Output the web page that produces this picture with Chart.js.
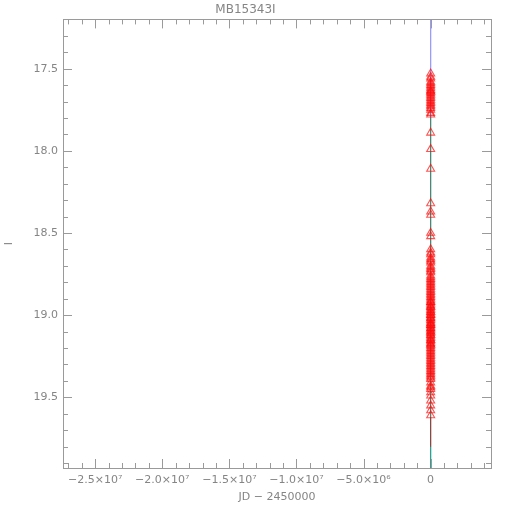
<!DOCTYPE html>
<html>
<head>
<meta charset="utf-8">
<script src="https://cdn.jsdelivr.net/npm/chart.js@4.4.1/dist/chart.umd.min.js"></script>
<style>
  html, body { margin: 0; padding: 0; background: #fff; }
  #wrap { width: 510px; height: 510px; }
</style>
</head>
<body>
<div id="wrap"><canvas id="lc"></canvas></div>
<script>
// ------------------- Data -------------------
const chartTitle = 'MB15343I';
const xTitle = 'JD \u2212 2450000';
const yTitle = 'I';

// axis ranges and labelled ticks
const xRange = [-27400000, 4500000];
const yRange = [17.2, 19.93];
const xTickVals = [-25000000, -20000000, -15000000, -10000000, -5000000, 0];
const yTickVals = [17.5, 18.0, 18.5, 19.0, 19.5];

// observations (JD - 2450000, I mag)
const obsJD = [
  3824.1, 3826.2, 3829.0, 3831.1, 3833.2, 3835.0, 3837.1, 3839.2, 3841.0, 3843.1,
  3845.2, 3847.0, 3849.1, 3851.2, 3853.0, 3855.1, 3857.2, 3859.0, 3861.1, 3863.2,
  3866.0, 3869.1, 3872.2, 3875.0, 3878.1, 3881.2, 3884.0, 3887.1,
  3890.2, 3893.0, 3896.1, 3899.2, 3902.0, 3905.1, 3908.2, 3911.0, 3914.1, 3917.2,
  3920.0, 3923.1, 3926.2, 3929.0, 3932.1, 3935.2, 3938.0, 3941.1, 3944.2, 3947.0,
  3950.1, 3953.2, 3956.0, 3959.1, 3962.2, 3965.0, 3968.1, 3971.2, 3974.0, 3977.1,
  3980.2, 3983.0, 3986.1, 3989.2, 3992.0, 3995.1, 3998.2, 4001.0, 4004.1, 4007.2,
  4010.0, 4013.1, 4016.2, 4019.0, 4022.1, 4025.2, 4028.0, 4031.1, 4034.2, 4037.0,
  4040.1, 4043.2, 4046.0, 4049.1, 4052.2, 4055.0, 4058.1, 4061.2, 4064.0, 4067.1,
  4070.2, 4073.0, 4076.1, 4079.2, 4082.0, 4085.1, 4088.2, 4091.0, 4094.1, 4097.2,
  4100.0, 4103.1, 4106.2, 4109.0, 4112.1, 4115.2, 4118.0, 4121.1, 4124.2, 4127.0,
  4130.1, 4133.2, 4136.0, 4139.1, 4142.2, 4145.0,
  4148.1, 4151.2, 4154.0, 4157.1, 4160.2, 4163.0, 4166.1, 4169.2, 4172.0, 4175.1,
  4178.2, 4181.0, 4184.1, 4187.2, 4190.0, 4193.1
];
const obsMag = [
  17.53, 17.55, 17.56, 17.58, 17.60, 17.61, 17.62, 17.63, 17.64, 17.65,
  17.66, 17.67, 17.68, 17.70, 17.71, 17.72, 17.74, 17.75, 17.77, 17.78,
  17.89, 17.99, 18.11, 18.32, 18.37, 18.39, 18.50, 18.52,
  18.60, 18.62, 18.63, 18.65, 18.66, 18.68, 18.70, 18.71, 18.73, 18.74,
  18.76, 18.77, 18.79, 18.80, 18.81, 18.83, 18.84, 18.85, 18.86, 18.88,
  18.89, 18.90, 18.91, 18.92, 18.93, 18.94, 18.95, 18.96, 18.97, 18.98,
  18.99, 19.00, 19.01, 19.02, 19.03, 19.04, 19.05, 19.06, 19.07, 19.08,
  19.09, 19.10, 19.11, 19.12, 19.13, 19.14, 19.15, 19.16, 19.17, 19.18,
  19.19, 19.20, 19.21, 19.22, 19.23, 19.25, 19.26, 19.27, 19.29, 19.30,
  19.31, 19.33, 19.34, 19.36, 19.38, 19.39, 19.41, 19.43, 19.45, 19.47,
  19.49, 19.52, 19.55, 19.58, 19.61, 18.95, 19.00, 19.05, 19.08, 19.12,
  19.15, 19.02, 18.98, 18.87, 19.24, 19.35,
  18.72, 18.78, 18.82, 19.06, 19.18, 19.28, 19.32, 19.37, 19.44, 17.59,
  17.64, 17.69, 17.73, 18.67, 18.92, 19.10
];

// model curve pieces at JD ~ 0 (mag breakpoints, top to bottom)
const modelJD = 0;
const modelMag = [17.2, 17.55, 17.8, 19.62, 19.8, 19.93];
const modelColors = ['#9c9cff', '#8a6a9a', '#4a8a74', '#8a4a44', '#2aa294'];

// ------------------- Styles -------------------
const textColor = '#858585';
const axisColor = '#9a9a9a';
const fontFamily = "'DejaVu Sans', sans-serif";
const sup = { '6': '\u2076', '7': '\u2077' };

function fmtX(v) {
  if (v === 0) return '0';
  const e = Math.floor(Math.log10(Math.abs(v)));
  const m = Math.abs(v) / Math.pow(10, e);
  return (v < 0 ? '\u2212' : '') + m.toFixed(1) + '\u00d710' + sup[String(e)];
}

// ------------------- Datasets -------------------
const datasets = [];
for (let i = 0; i < modelColors.length; i++) {
  datasets.push({
    type: 'line',
    data: [{ x: modelJD, y: modelMag[i] }, { x: modelJD, y: modelMag[i + 1] }],
    borderColor: modelColors[i],
    borderWidth: 1,
    pointRadius: 0,
    order: 2
  });
}
datasets.push({
  type: 'scatter',
  data: obsJD.map((jd, i) => ({ x: jd, y: obsMag[i] })),
  pointStyle: 'triangle',
  pointRadius: 4.6,
  borderColor: 'rgba(255, 10, 10, 0.7)',
  backgroundColor: 'rgba(0,0,0,0)',
  borderWidth: 1.1,
  order: 1
});

// ------------------- Frame + IDL-style ticks -------------------
const frameTicks = {
  id: 'frameTicks',
  afterDraw(chart) {
    const { ctx, chartArea: a, scales: { x, y } } = chart;
    ctx.save();
    ctx.strokeStyle = axisColor;
    ctx.lineWidth = 1;
    ctx.strokeRect(Math.round(a.left) + 0.5, Math.round(a.top) + 0.5,
      Math.round(a.right - a.left), Math.round(a.bottom - a.top));
    ctx.beginPath();
    // x: minor every 1e6, major every 5e6
    for (let k = -27; k <= 4; k++) {
      const len = (k % 5 === 0) ? 9 : 5;
      const p = Math.round(x.getPixelForValue(k * 1e6)) + 0.5;
      ctx.moveTo(p, a.bottom); ctx.lineTo(p, a.bottom - len);
      ctx.moveTo(p, a.top); ctx.lineTo(p, a.top + len);
    }
    // y: minor every 0.1, major every 0.5
    for (let k = 173; k <= 199; k++) {
      const len = (k % 5 === 0) ? 9 : 5;
      const p = Math.round(y.getPixelForValue(k / 10)) + 0.5;
      ctx.moveTo(a.left, p); ctx.lineTo(a.left + len, p);
      ctx.moveTo(a.right, p); ctx.lineTo(a.right - len, p);
    }
    ctx.stroke();
    ctx.restore();
  }
};

// ------------------- Chart -------------------
new Chart(document.getElementById('lc'), {
  type: 'scatter',
  data: { datasets: datasets },
  options: {
    responsive: true,
    maintainAspectRatio: false,
    animation: false,
    events: [],
    layout: { padding: { left: 0, right: 19, top: 0, bottom: 0 } },
    plugins: {
      legend: { display: false },
      tooltip: { enabled: false },
      title: {
        display: true,
        text: chartTitle,
        color: textColor,
        font: { family: fontFamily, size: 12, weight: 'normal' },
        padding: { top: 3, bottom: 2 }
      }
    },
    scales: {
      x: {
        type: 'linear',
        min: xRange[0],
        max: xRange[1],
        grid: { display: false, drawTicks: false },
        border: { display: false },
        afterBuildTicks: s => { s.ticks = xTickVals.map(v => ({ value: v })); },
        afterFit: s => { s.height = 42; },
        ticks: {
          color: textColor,
          font: { family: fontFamily, size: 11 },
          padding: 6,
          maxRotation: 0,
          autoSkip: false,
          callback: v => fmtX(v)
        },
        title: {
          display: true,
          text: xTitle,
          color: textColor,
          font: { family: fontFamily, size: 11 },
          padding: { top: 0, bottom: 6 }
        }
      },
      y: {
        type: 'linear',
        reverse: true,
        min: yRange[0],
        max: yRange[1],
        grid: { display: false, drawTicks: false },
        border: { display: false },
        afterBuildTicks: s => { s.ticks = yTickVals.map(v => ({ value: v })); },
        afterFit: s => { s.width = 63; },
        ticks: {
          color: textColor,
          font: { family: fontFamily, size: 11 },
          padding: 5,
          autoSkip: false,
          callback: v => v.toFixed(1)
        },
        title: {
          display: true,
          text: yTitle,
          color: textColor,
          font: { family: fontFamily, size: 11 },
          padding: { top: 3, bottom: 0 }
        }
      }
    }
  },
  plugins: [frameTicks]
});
</script>
</body>
</html>
